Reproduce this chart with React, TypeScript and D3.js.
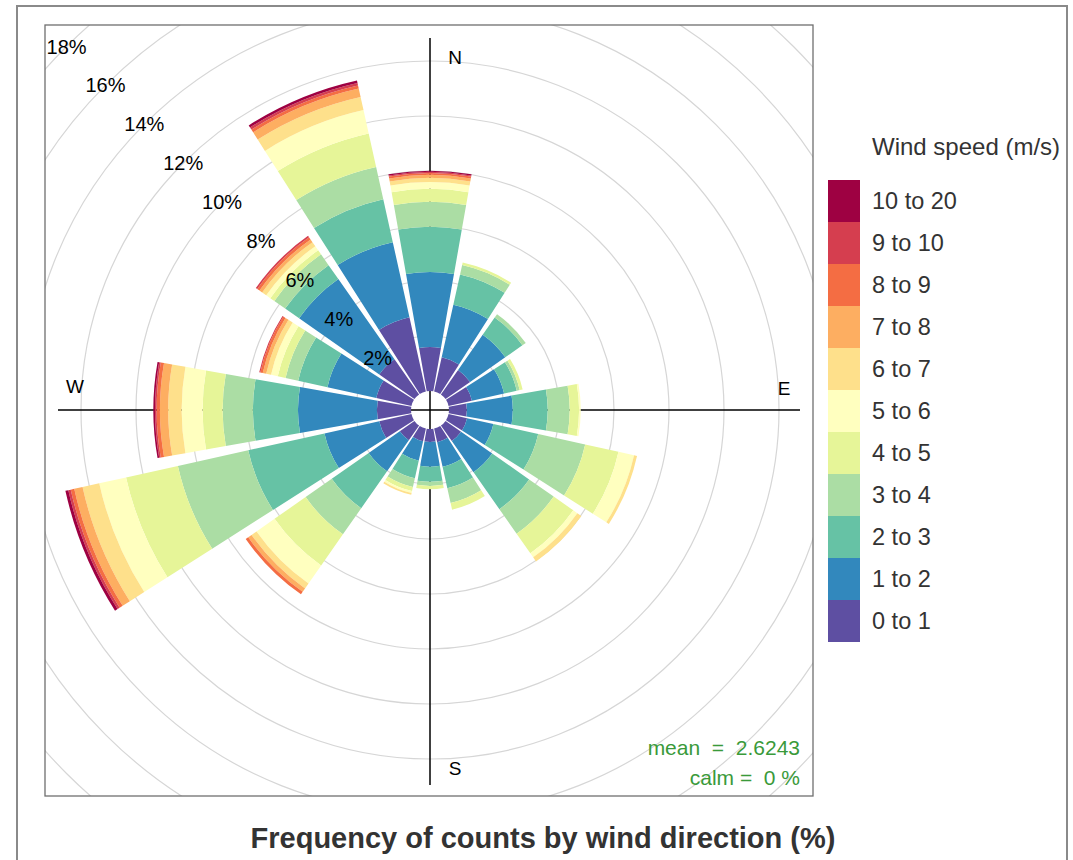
import React from "react"
import * as d3 from "d3"

// wind directions (degrees, clockwise from north)
const directions = ["N", "NNE", "NE", "ENE", "E", "ESE", "SE", "SSE", "S", "SSW", "SW", "WSW", "W", "WNW", "NW", "NNW"]
const dirAngles = directions.map((d, i) => i * 22.5)

const speedBins = ["0 to 1", "1 to 2", "2 to 3", "3 to 4", "4 to 5", "5 to 6", "6 to 7", "7 to 8", "8 to 9", "9 to 10", "10 to 20"]
const binColors = ["#5E4FA2", "#3288BD", "#66C2A5", "#ABDDA4", "#E6F598", "#FFFFBF", "#FEE08B", "#FDAE61", "#F46D43", "#D53E4F", "#9E0142"]

// frequency (%) per direction for each speed bin
const s0_1 = [1.60, 1.27, 1.09, 0.87, 0.65, 0.69, 0.69, 0.51, 0.47, 0.47, 0.65, 1.20, 1.24, 1.31, 1.56, 2.76]
const s1_2 = [2.73, 1.96, 1.56, 1.20, 1.67, 0.98, 1.38, 0.91, 0.90, 0.73, 1.38, 2.04, 2.87, 1.82, 3.56, 2.80]
const s2_3 = [1.64, 1.13, 0.76, 0.47, 1.27, 1.67, 1.64, 0.80, 0.55, 0.65, 1.64, 2.84, 1.64, 1.09, 0.62, 1.60]
const s3_4 = [0.91, 0.35, 0.15, 0.11, 0.80, 1.75, 1.09, 0.55, 0.15, 0.33, 1.16, 2.62, 1.10, 0.47, 0.48, 1.20]
const s4_5 = [0.47, 0.09, 0.00, 0.11, 0.34, 1.24, 0.87, 0.25, 0.12, 0.15, 1.38, 1.93, 0.73, 0.29, 0.18, 1.25]
const s5_6 = [0.25, 0, 0, 0, 0.06, 0.58, 0.18, 0, 0, 0.07, 0.80, 1.00, 0.76, 0.25, 0.18, 0.87]
const s6_7 = [0.15, 0, 0, 0, 0, 0.11, 0.18, 0, 0, 0.07, 0.22, 0.62, 0.49, 0.18, 0.18, 0.49]
const s7_8 = [0.11, 0, 0, 0, 0, 0, 0, 0, 0, 0, 0.15, 0.31, 0.30, 0.13, 0.12, 0.31]
const s8_9 = [0.07, 0, 0, 0, 0, 0, 0, 0, 0, 0, 0.11, 0.13, 0.12, 0.09, 0.10, 0.12]
const s9_10 = [0.04, 0, 0, 0, 0, 0, 0, 0, 0, 0, 0, 0.09, 0.06, 0.04, 0.06, 0.09]
const s10_20 = [0.04, 0, 0, 0, 0, 0, 0, 0, 0, 0, 0, 0.11, 0.06, 0, 0, 0.09]

const gridTicks = [2, 4, 6, 8, 10, 12, 14, 16, 18]
const compass = ["N", "E", "S", "W"]
const meanText = "mean  =  2.6243"
const calmText = "calm =  0 %"
const title = "Frequency of counts by wind direction (%)"

const font = "'Liberation Sans', Arial, Helvetica, sans-serif"

const cx = 430
const cy = 410
const panel = { x: 45, y: 25, w: 768, h: 771 }
const axisLen = 372
const halfWidth = 10 // degrees each side of direction

const rScale = d3.scaleLinear().domain([0, 18]).range([19, 514])
const rad = (deg) => (deg * Math.PI) / 180

const App = () => {
  const series = [s0_1, s1_2, s2_3, s3_4, s4_5, s5_6, s6_7, s7_8, s8_9, s9_10, s10_20]

  const stacked = d3
    .stack()
    .keys(speedBins)
    .value((d, key) => d[key])(
      directions.map((dir, i) => {
        const row = { dir }
        speedBins.forEach((b, j) => (row[b] = series[j][i]))
        return row
      })
    )

  const arc = d3.arc()

  const legendTop = 180
  const legendStep = 42

  const compassPos = {
    N: [cx + 25, cy - 353],
    E: [cx + 354, cy - 22],
    S: [cx + 25, cy + 358],
    W: [cx - 355, cy - 24],
  }

  return (
    <svg
      width={1073}
      height={860}
      style={{ position: "absolute", left: 0, top: 0, background: "#fff" }}
      fontFamily={font}
    >
      <defs>
        <clipPath id="panelClip">
          <rect x={panel.x} y={panel.y} width={panel.w} height={panel.h} />
        </clipPath>
      </defs>
      <rect x={17} y={6} width={1050} height={880} fill="#fff" stroke="#8a8a8a" strokeWidth={2} />

      <g clipPath="url(#panelClip)">
        {gridTicks.map((t) => (
          <circle key={t} cx={cx} cy={cy} r={rScale(t)} fill="none" stroke="#d6d6d6" strokeWidth={1.2} />
        ))}
        <line x1={cx} x2={cx} y1={cy - axisLen} y2={cy + axisLen + 3} stroke="#000" strokeWidth={1.5} />
        <line x1={cx - axisLen} x2={cx + axisLen - 2} y1={cy} y2={cy} stroke="#000" strokeWidth={1.5} />

        <g transform={`translate(${cx},${cy})`}>
          {stacked.map((layer, j) =>
            layer.map((d, i) => {
              if (d[1] - d[0] <= 0) return null
              const a = dirAngles[i]
              return (
                <path
                  key={`${j}-${i}`}
                  d={arc({
                    innerRadius: rScale(d[0]),
                    outerRadius: rScale(d[1]),
                    startAngle: rad(a - halfWidth),
                    endAngle: rad(a + halfWidth),
                  })}
                  fill={binColors[j]}
                />
              )
            })
          )}
        </g>

        {gridTicks.map((t) => {
          const rr = rScale(t)
          return (
            <text
              key={t}
              x={cx - rr * Math.sin(rad(45))}
              y={cy - rr * Math.cos(rad(45))}
              textAnchor="middle"
              dominantBaseline="central"
              fontSize={20}
              fill="#000"
            >
              {t}%
            </text>
          )
        })}

        {compass.map((c) => (
          <text
            key={c}
            x={compassPos[c][0]}
            y={compassPos[c][1]}
            textAnchor="middle"
            dominantBaseline="central"
            fontSize={19}
            fill="#000"
          >
            {c}
          </text>
        ))}

        <text x={800} y={755} textAnchor="end" fontSize={21} fill="#3a9a3a" style={{ whiteSpace: "pre" }}>
          {meanText}
        </text>
        <text x={800} y={785} textAnchor="end" fontSize={21} fill="#3a9a3a" style={{ whiteSpace: "pre" }}>
          {calmText}
        </text>
      </g>

      <rect x={panel.x} y={panel.y} width={panel.w} height={panel.h} fill="none" stroke="#6f6f6f" strokeWidth={1.3} />

      {/* legend */}
      <text x={872} y={155} fontSize={24} fill="#333">
        Wind speed (m/s)
      </text>
      {speedBins
        .map((b, j) => ({ b, j }))
        .reverse()
        .map(({ b, j }, k) => (
          <g key={b}>
            <rect x={828} y={legendTop + k * legendStep} width={32} height={legendStep} fill={binColors[j]} />
            <text
              x={872}
              y={legendTop + k * legendStep + legendStep / 2}
              dominantBaseline="central"
              fontSize={23.5}
              fill="#333"
            >
              {b}
            </text>
          </g>
        ))}

      <text x={543} y={848} textAnchor="middle" fontSize={29} fontWeight="bold" fill="#333">
        {title}
      </text>
    </svg>
  )
}

export default App
